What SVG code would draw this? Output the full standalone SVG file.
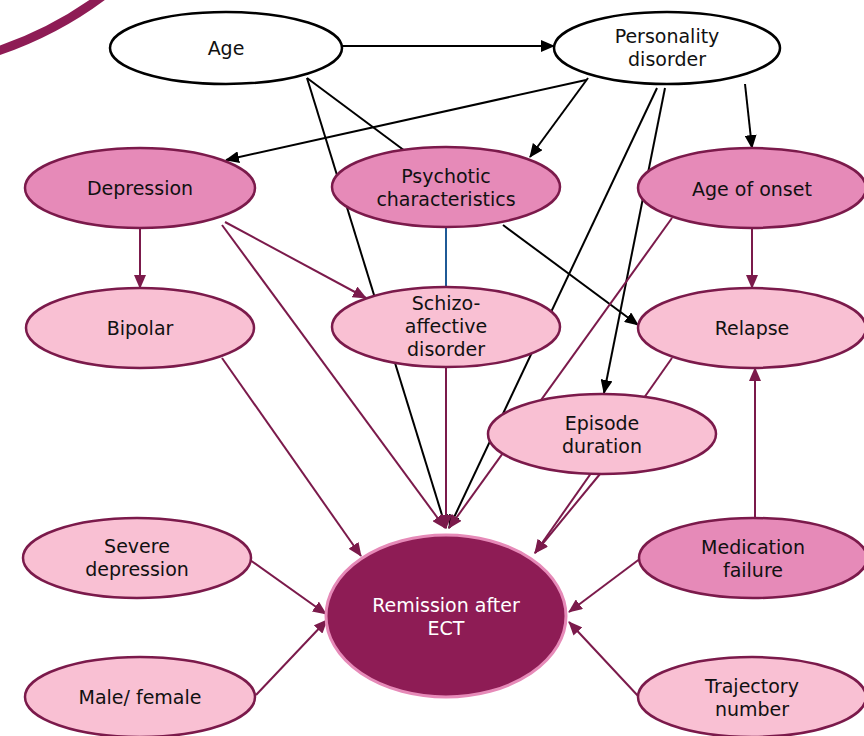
<svg xmlns="http://www.w3.org/2000/svg" width="864" height="736" viewBox="0 0 864 736">
<style>
.n ellipse{stroke:#7b1a4b;stroke-width:2.5}
.w ellipse{fill:#fff;stroke:#000;stroke-width:2.5}
.d ellipse{fill:#e68ab8}
.l ellipse{fill:#f9c0d3}
text{font-family:"DejaVu Sans",Verdana,sans-serif;font-size:19px;fill:#111;text-anchor:middle}
.e line{stroke-width:2;fill:none}
.k{stroke:#000;marker-end:url(#ak)}
.k0{stroke:#000}
.p{stroke:#7b1a4b;marker-end:url(#ap)}
.b{stroke:#1f5a96}
</style>
<defs>
<marker id="ak" markerWidth="14" markerHeight="12" refX="13" refY="6" orient="auto" markerUnits="userSpaceOnUse"><path d="M0,0 L14,6 L0,12 Z" fill="#000"/></marker>
<marker id="ap" markerWidth="14" markerHeight="12" refX="13" refY="6" orient="auto" markerUnits="userSpaceOnUse"><path d="M0,0 L14,6 L0,12 Z" fill="#7b1a4b"/></marker>
</defs>
<rect width="864" height="736" fill="#fff"/>
<path d="M-5,52 Q55,32 104,-5" fill="none" stroke="#8e1c55" stroke-width="9"/>
<g id="connectors" class="e">
<line class="k" x1="342" y1="46" x2="554" y2="46"/>
<line class="k0" x1="307" y1="78" x2="405" y2="151"/>
<line class="k" x1="307" y1="78" x2="446" y2="528"/>
<line class="k" x1="586" y1="80" x2="226" y2="160"/>
<line class="k" x1="588" y1="78" x2="530" y2="157"/>
<line class="k" x1="745" y1="84" x2="752" y2="148"/>
<line class="k" x1="665" y1="88" x2="604" y2="393"/>
<line class="k" x1="657" y1="88" x2="449" y2="528"/>
<line class="k" x1="503" y1="225" x2="638" y2="325"/>
<line class="b" x1="446" y1="228" x2="446" y2="287"/>
<line class="p" x1="140" y1="228" x2="140" y2="288"/>
<line class="p" x1="225" y1="222" x2="366" y2="298"/>
<line class="p" x1="222" y1="225" x2="445" y2="528"/>
<line class="p" x1="222" y1="358" x2="361" y2="556"/>
<line class="p" x1="446" y1="367" x2="446" y2="528"/>
<line class="p" x1="672" y1="218" x2="449" y2="528"/>
<line class="p" x1="752" y1="228" x2="752" y2="288"/>
<line class="p" x1="672" y1="358" x2="535" y2="553"/>
<line class="p" x1="600" y1="474" x2="535" y2="553"/>
<line class="p" x1="755" y1="518" x2="755" y2="368"/>
<line class="p" x1="641" y1="558" x2="569" y2="612"/>
<line class="p" x1="250" y1="560" x2="326" y2="614"/>
<line class="p" x1="256" y1="695" x2="327" y2="620"/>
<line class="p" x1="639" y1="697" x2="569" y2="622"/>
</g>
<g id="age" class="w"><ellipse cx="226" cy="48" rx="116" ry="36"/><text x="226" y="55">Age</text></g>
<g id="personality" class="w"><ellipse cx="667" cy="48" rx="113" ry="36"/><text x="667" y="43">Personality</text><text x="667" y="66">disorder</text></g>
<g id="depression" class="n d"><ellipse cx="140" cy="188" rx="115" ry="40"/><text x="140" y="195">Depression</text></g>
<g id="psychotic" class="n d"><ellipse cx="446" cy="187" rx="114" ry="40"/><text x="446" y="183">Psychotic</text><text x="446" y="206">characteristics</text></g>
<g id="ageonset" class="n d"><ellipse cx="752" cy="188" rx="114" ry="40"/><text x="752" y="196">Age of onset</text></g>
<g id="bipolar" class="n l"><ellipse cx="140" cy="328" rx="114" ry="40"/><text x="140" y="335">Bipolar</text></g>
<g id="schizo" class="n l"><ellipse cx="446" cy="327" rx="114" ry="40"/><text x="446" y="310">Schizo-</text><text x="446" y="333">affective</text><text x="446" y="356">disorder</text></g>
<g id="relapse" class="n l"><ellipse cx="752" cy="328" rx="114" ry="40"/><text x="752" y="335">Relapse</text></g>
<g id="episode" class="n l"><ellipse cx="602" cy="434" rx="114" ry="40"/><text x="602" y="430">Episode</text><text x="602" y="453">duration</text></g>
<g id="severe" class="n l"><ellipse cx="137" cy="558" rx="114" ry="40"/><text x="137" y="553">Severe</text><text x="137" y="576">depression</text></g>
<g id="medfail" class="n d"><ellipse cx="753" cy="558" rx="114" ry="40"/><text x="753" y="554">Medication</text><text x="753" y="577">failure</text></g>
<g id="remission"><ellipse cx="446" cy="616" rx="120" ry="81" fill="#8e1c55" stroke="#e68ab8" stroke-width="3"/><text x="446" y="612" style="fill:#fff">Remission after</text><text x="446" y="635" style="fill:#fff">ECT</text></g>
<g id="male" class="n l"><ellipse cx="140" cy="697" rx="115" ry="40"/><text x="140" y="704">Male/ female</text></g>
<g id="trajectory" class="n l"><ellipse cx="752" cy="697" rx="114" ry="40"/><text x="752" y="693">Trajectory</text><text x="752" y="716">number</text></g>
</svg>
